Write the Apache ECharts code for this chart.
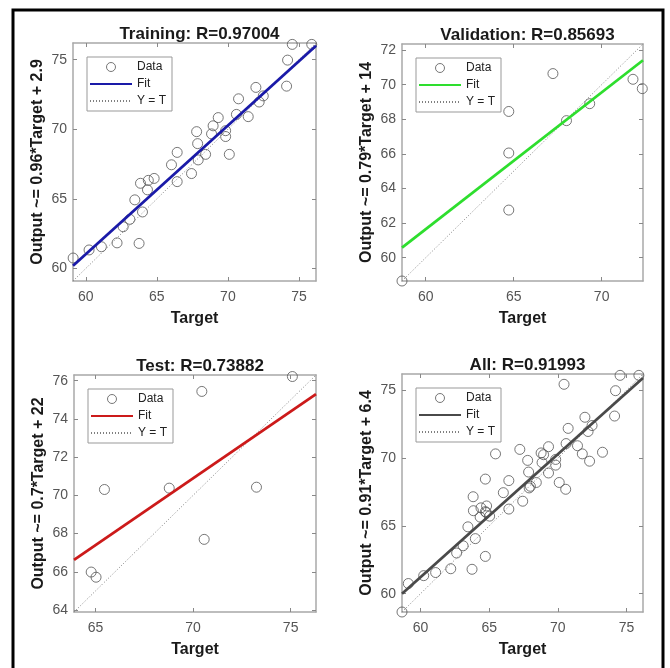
<!DOCTYPE html>
<html>
<head>
<meta charset="utf-8">
<script src="https://cdn.jsdelivr.net/npm/echarts@6/dist/echarts.min.js"></script>
<style>
  html, body { margin: 0; padding: 0; background: #fff; }
  #chart { width: 670px; height: 668px; }
</style>
</head>
<body>
<div id="chart"></div>
<script>
// [target, output] pairs
const trainPoints = [
  [59.11, 60.75], [60.23, 61.33], [61.1, 61.56], [62.2, 61.84], [63.75, 61.8],
  [62.63, 63.0], [63.1, 63.53], [63.45, 64.93], [63.99, 64.06], [63.85, 66.12],
  [64.34, 65.65], [64.4, 66.33], [64.81, 66.47], [66.03, 67.45], [66.43, 68.34],
  [66.43, 66.24], [67.44, 66.82], [67.8, 69.83], [67.87, 68.97], [67.91, 67.8],
  [68.43, 68.2], [68.85, 69.67], [68.96, 70.25], [69.32, 70.84], [69.84, 69.9],
  [69.84, 69.48], [70.1, 68.2], [70.6, 71.07], [70.75, 72.19], [71.43, 70.91],
  [71.97, 73.01], [72.2, 71.96], [72.49, 72.4], [74.13, 73.1], [74.2, 74.97],
  [74.53, 76.1], [75.9, 76.1]
];
const valPoints = [
  [58.65, 58.65], [64.72, 68.45], [64.72, 66.05], [64.72, 62.75], [67.23, 70.64],
  [68.0, 67.92], [69.32, 68.9], [71.78, 70.31], [72.31, 69.77]
];
const testPoints = [
  [63.83, 67.15], [64.78, 65.99], [65.03, 65.72], [65.46, 70.31], [68.78, 70.38],
  [70.45, 75.44], [70.57, 67.7], [73.25, 70.43], [75.09, 76.22]
];
const allPoints = trainPoints.concat(valPoints, testPoints);

// fit line ends [target, output] at the axis limits
const trainFit = [[59.1, 60.2], [76.2, 76.0]];
const valFit = [[58.65, 60.58], [72.35, 71.41]];
const testFit = [[63.9, 66.63], [76.3, 75.3]];
const allFit = [[58.65, 60.0], [76.2, 75.9]];

const titles = ['Training: R=0.97004', 'Validation: R=0.85693', 'Test: R=0.73882', 'All: R=0.91993'];
const yNames = ['Output ~= 0.96*Target + 2.9', 'Output ~= 0.79*Target + 14',
                'Output ~= 0.7*Target + 22', 'Output ~= 0.91*Target + 6.4'];
const limits = [[59.1, 76.2], [58.65, 72.35], [63.9, 76.3], [58.65, 76.2]];
const xTicks = [[60, 65, 70, 75], [60, 65, 70], [65, 70, 75], [60, 65, 70, 75]];
const yTicks = [[60, 65, 70, 75], [60, 62, 64, 66, 68, 70, 72], [64, 66, 68, 70, 72, 74, 76], [60, 65, 70, 75]];

const points = [trainPoints, valPoints, testPoints, allPoints];
const fits = [trainFit, valFit, testFit, allFit];
const fitColors = ['#1a1aa8', '#2ede2e', '#cc1a1a', '#4a4a4a'];

const boxes = [
  { left: 73, top: 43, width: 243, height: 238 },
  { left: 402, top: 44, width: 241, height: 237 },
  { left: 74, top: 375, width: 242, height: 237 },
  { left: 402, top: 374, width: 241, height: 238 }
];

const frameColor = '#a8a8a8';
const font = 'Liberation Sans, Arial, sans-serif';
const hidden = { opacity: 0 };

const grid = [], xAxis = [], yAxis = [], series = [], legend = [], title = [];

boxes.forEach(function (b, i) {
  grid.push({ left: b.left, top: b.top, width: b.width, height: b.height, containLabel: false });
  const lo = limits[i][0], hi = limits[i][1];
  const tickStyle = { inside: true, length: 4, lineStyle: { color: '#888' } };

  xAxis.push({
    type: 'value', gridIndex: i, min: lo, max: hi, position: 'bottom',
    axisLine: { show: true, onZero: false, lineStyle: { color: frameColor, width: 1.5 } },
    axisTick: Object.assign({ customValues: xTicks[i] }, tickStyle),
    axisLabel: { customValues: xTicks[i], color: '#555', fontSize: 14, margin: 9, fontFamily: font },
    splitLine: { show: false },
    name: 'Target', nameLocation: 'middle', nameGap: 30,
    nameTextStyle: { fontWeight: 'bold', fontSize: 16, color: '#1a1a1a', fontFamily: font }
  });
  xAxis.push({
    type: 'value', gridIndex: i, min: lo, max: hi, position: 'top',
    axisLine: { show: true, onZero: false, lineStyle: { color: frameColor, width: 1.5 } },
    axisTick: Object.assign({ customValues: xTicks[i] }, tickStyle),
    axisLabel: { show: false }, splitLine: { show: false }
  });
  yAxis.push({
    type: 'value', gridIndex: i, min: lo, max: hi, position: 'left',
    axisLine: { show: true, onZero: false, lineStyle: { color: frameColor, width: 1.5 } },
    axisTick: Object.assign({ customValues: yTicks[i] }, tickStyle),
    axisLabel: { customValues: yTicks[i], color: '#555', fontSize: 14, margin: 6, fontFamily: font },
    splitLine: { show: false },
    name: yNames[i], nameLocation: 'middle', nameGap: 27,
    nameTextStyle: { fontWeight: 'bold', fontSize: 16, color: '#1a1a1a', fontFamily: font }
  });
  yAxis.push({
    type: 'value', gridIndex: i, min: lo, max: hi, position: 'right',
    axisLine: { show: true, onZero: false, lineStyle: { color: frameColor, width: 1.5 } },
    axisTick: Object.assign({ customValues: yTicks[i] }, tickStyle),
    axisLabel: { show: false }, splitLine: { show: false }
  });

  const tag = '|' + i;
  series.push({
    name: 'Y = T' + tag, type: 'line', xAxisIndex: 2 * i, yAxisIndex: 2 * i,
    data: [[lo, lo], [hi, hi]], symbol: 'none', silent: true, z: 2,
    lineStyle: { color: '#808080', width: 1, type: [1, 2] }
  });
  series.push({
    name: 'Data' + tag, type: 'scatter', xAxisIndex: 2 * i, yAxisIndex: 2 * i,
    data: points[i], symbol: 'circle', symbolSize: 10, z: 3,
    itemStyle: { color: 'rgba(0,0,0,0)', borderColor: '#555', borderWidth: 1 }
  });
  series.push({
    name: 'Fit' + tag, type: 'line', xAxisIndex: 2 * i, yAxisIndex: 2 * i,
    data: fits[i], symbol: 'none', silent: true, z: 4,
    lineStyle: { color: fitColors[i], width: 2.8 }
  });

  legend.push({
    left: b.left + 14, top: b.top + 14, orient: 'vertical', selectedMode: false,
    data: [
      { name: 'Data' + tag, icon: 'circle', itemStyle: { color: 'rgba(0,0,0,0)', borderColor: '#555', borderWidth: 1 } },
      { name: 'Fit' + tag, itemStyle: hidden },
      { name: 'Y = T' + tag, itemStyle: hidden }
    ],
    formatter: function (n) { return n.split('|')[0]; },
    itemWidth: 42, itemHeight: 9, itemGap: 5,
    padding: [4, 6, 4, 2],
    borderColor: '#999', borderWidth: 1, backgroundColor: '#fff',
    textStyle: { fontSize: 12, color: '#222', fontFamily: font }
  });

  title.push({
    text: titles[i], left: b.left + b.width / 2, top: b.top - 22, textAlign: 'center',
    textStyle: { fontSize: 17, fontWeight: 'bold', color: '#1a1a1a', fontFamily: font }
  });
});

const chart = echarts.init(document.getElementById('chart'));
chart.setOption({
  backgroundColor: '#fff',
  animation: false,
  title: title,
  legend: legend,
  grid: grid,
  xAxis: xAxis,
  yAxis: yAxis,
  series: series,
  graphic: [{
    type: 'rect', z: 100, silent: true,
    shape: { x: 13, y: 10, width: 650, height: 670 },
    style: { fill: 'none', stroke: '#000', lineWidth: 3 }
  }]
});
</script>
</body>
</html>
